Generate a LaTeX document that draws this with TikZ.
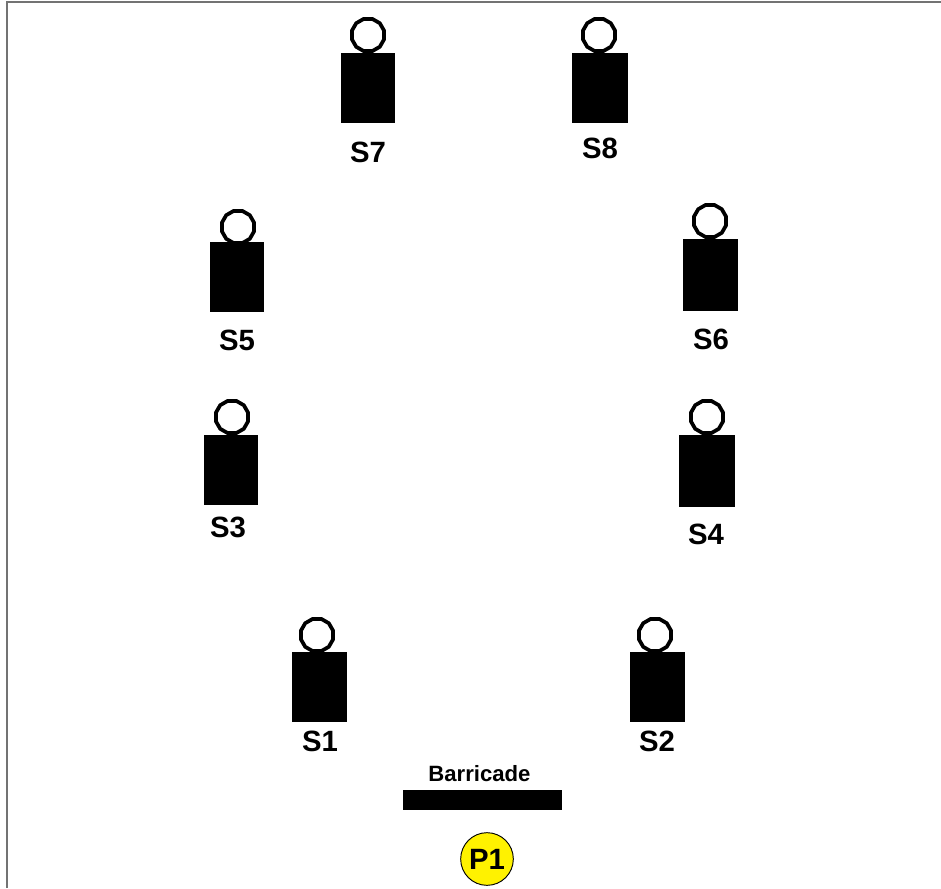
\documentclass[tikz,border=0pt]{standalone}
\usepackage{fontspec}
\setmainfont{Liberation Sans}
\usetikzlibrary{shapes.geometric}
\tikzset{
  x=0.75pt,y=-0.75pt,
  head/.style={regular polygon,regular polygon sides=12,draw=black,line width=2.8pt,line join=round,fill=white,minimum size=25pt,inner sep=0pt},
  seat/.style={font=\bfseries\fontsize{22}{22}\selectfont,inner sep=0pt,text=black},
  frameline/.style={draw=black!55,line width=1.5pt}
}
\newcommand{\person}[7]{% name x0 y0 x1 y1 hx hy
  \node[head] (h#1) at (#6,#7) {};
  \fill[black] (#2,#3) rectangle (#4,#5);
}
\begin{document}
\begin{tikzpicture}
\useasboundingbox (0,0) rectangle (941,888);
\draw[frameline] (7,888) -- (7,2.5) -- (941,2.5);
\person{S7}{341}{53}{395}{123}{368}{35}
\person{S8}{572}{53}{628}{123}{599}{35}
\person{S5}{210}{242}{264}{312}{238}{227}
\person{S6}{683}{239}{738}{311}{710}{221}
\person{S3}{204}{435}{258}{505}{232}{417}
\person{S4}{679}{435}{735}{507}{707}{417}
\person{S1}{292}{652}{347}{722}{317}{635}
\person{S2}{630}{652}{685}{722}{655}{635}
\node[seat] (S7) at (368,152) {S7};
\node[seat] (S8) at (600,148) {S8};
\node[seat] (S5) at (237,340) {S5};
\node[seat] (S6) at (711,339) {S6};
\node[seat] (S3) at (228,527) {S3};
\node[seat] (S4) at (706,534) {S4};
\node[seat] (S1) at (320,741) {S1};
\node[seat] (S2) at (657,741) {S2};
\node[font=\bfseries\fontsize{16.6}{16.6}\selectfont,inner sep=0pt] (bl) at (479.5,773.5) {Barricade};
\fill[black] (403,790) rectangle (562,810);
\node[circle,draw=black,line width=0.7pt,fill=yellow,minimum size=39.5pt,inner sep=0pt,font=\bfseries\fontsize{22}{22}\selectfont] (P1) at (487,859) {P1};
\end{tikzpicture}
\end{document}
